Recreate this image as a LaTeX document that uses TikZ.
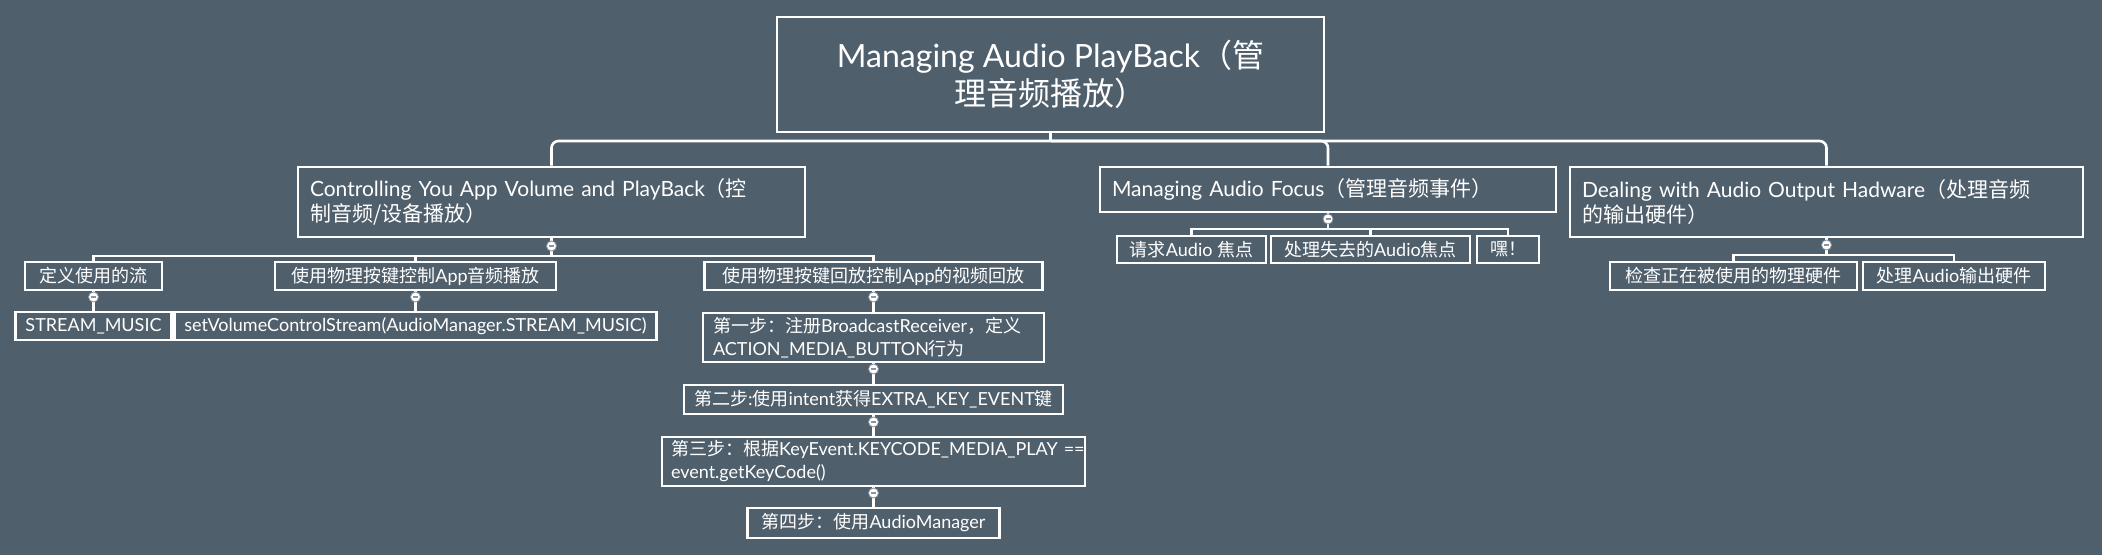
\documentclass[tikz,border=0pt]{standalone}
\usepackage{fontspec}
\setmainfont{Lato}
\newfontfamily\cjk{Noto Sans CJK SC}
\newcommand{\zh}[1]{{\cjk #1}}

\definecolor{slate}{RGB}{80,95,108}
\definecolor{knobgray}{RGB}{140,150,160}

\tikzset{
  box/.style={draw=white, line width=2.6pt, text=white, inner xsep=10pt, inner ysep=0pt,
    font=\fontsize{18}{23}\selectfont},
  topic/.style={box, inner xsep=12pt, align=left, font=\fontsize{21}{25}\selectfont},
  link/.style={draw=white, line width=2.6pt},
  knob/.style={circle, fill=white, draw=knobgray, line width=0.8pt, minimum size=10pt, inner sep=0pt,
    path picture={\draw[knobgray, line width=1.3pt]
      ([xshift=-2.5pt]path picture bounding box.center) -- ([xshift=2.5pt]path picture bounding box.center);}},
}

\begin{document}
\begin{tikzpicture}[x=1pt, y=-1pt]

        \fill[slate] (0,0) rectangle (2102,555);

        % Root and the three topics
        \node[box, minimum width=547pt, minimum height=115pt, align=center, font=\fontsize{32}{38}\selectfont]
            (root) at (1050.5,74.5) {Managing Audio PlayBack\zh{（管}\\\zh{理音频播放）}};
        \node[topic, text width=483pt, minimum height=70pt] (ctrl) at (551.5,202)
            {Controlling You App Volume and PlayBack\zh{（控}\\\zh{制音频/设备播放）}};
        \node[topic, text width=432pt, minimum height=45pt] (focus) at (1328,189.5)
            {Managing Audio Focus\zh{（管理音频事件）}};
        \node[topic, text width=489pt, minimum height=70pt] (dealing) at (1826.5,202)
            {Dealing with Audio Output Hadware\zh{（处理音频}\\\zh{的输出硬件）}};

        % Under the first topic
        \node[box, minimum width=137pt, minimum height=28pt] (define) at (93.5,276) {\zh{定义使用的流}};
        \node[box, minimum width=281pt, minimum height=28pt] (keyctl) at (415.5,276) {\zh{使用物理按键控制}App\zh{音频播放}};
        \node[box, minimum width=338pt, minimum height=28pt] (keyplay) at (873.5,276) {\zh{使用物理按键回放控制}App\zh{的视频回放}};
        \node[box, minimum width=152pt, minimum height=28pt] (stream) at (93.5,326) {STREAM\_MUSIC};
        \node[box, minimum width=481pt, minimum height=28pt] (setvol) at (415.5,326) {setVolumeControlStream(AudioManager.STREAM\_MUSIC)};

        % The four steps
        \node[box, text width=321pt, minimum height=49pt, align=left] (step1) at (873.5,337.5)
            {\zh{第一步：注册}BroadcastReceiver\zh{，定义}\\ACTION\_MEDIA\_BUTTON\zh{行为}};
        \node[box, minimum width=379pt, minimum height=29pt] (step2) at (873.5,399.5)
            {\zh{第二步}:\zh{使用}intent\zh{获得}EXTRA\_KEY\_EVENT\zh{键}};
        \node[box, text width=405pt, inner xsep=9pt, minimum height=49pt, align=left] (step3) at (873.5,461.5)
            {\mbox{\zh{第三步：根据}KeyEvent.KEYCODE\_MEDIA\_PLAY ==}\\event.getKeyCode()};
        \node[box, minimum width=252pt, minimum height=30pt] (step4) at (873.5,523) {\zh{第四步：使用}AudioManager};

        % Under the second and third topics
        \node[box, minimum width=149pt, minimum height=27pt] (request) at (1191.5,249.5) {\zh{请求}Audio \zh{焦点}};
        \node[box, minimum width=199pt, minimum height=27pt] (lost) at (1370.5,249.5) {\zh{处理失去的}Audio\zh{焦点}};
        \node[box, minimum width=62pt, minimum height=27pt] (hey) at (1508,249.5) {\zh{嘿！}};
        \node[box, minimum width=247pt, minimum height=28pt] (check) at (1733.5,276) {\zh{检查正在被使用的物理硬件}};
        \node[box, minimum width=182pt, minimum height=28pt] (output) at (1954,276) {\zh{处理}Audio\zh{输出硬件}};

        % Define coordinates where the branches split
        \coordinate (rootjoint) at (1050.5,141);
        \coordinate (ctrljoint) at (551.5,256);
        \coordinate (focusjoint) at (1328,229);
        \coordinate (dealingjoint) at (1826.5,255);

        % Draw the branches
        \draw[link] (root) -- (rootjoint);
        \draw[link, rounded corners=7pt] (rootjoint) -| (ctrl);
        \draw[link, rounded corners=7pt] (rootjoint) -| (focus);
        \draw[link, rounded corners=7pt] (rootjoint) -| (dealing);

        \draw[link] (ctrl) -- (ctrljoint);
        \draw[link] (ctrljoint) -| (define);
        \draw[link] (ctrljoint) -| (keyctl);
        \draw[link] (ctrljoint) -| (keyplay);
        \draw[link] (define) -- (stream);
        \draw[link] (keyctl) -- (setvol);
        \draw[link] (keyplay) -- (step1);
        \draw[link] (step1) -- (step2);
        \draw[link] (step2) -- (step3);
        \draw[link] (step3) -- (step4);

        \draw[link] (focus) -- (focusjoint);
        \draw[link] (focusjoint) -| (request);
        \draw[link] (focusjoint) -| (lost);
        \draw[link] (focusjoint) -| (hey);

        \draw[link] (dealing) -- (dealingjoint);
        \draw[link] (dealingjoint) -| (check);
        \draw[link] (dealingjoint) -| (output);

        % Collapse knobs on the parents
        \node[knob] (ctrlknob) at (551.5,246) {};
        \node[knob] (focusknob) at (1328,219) {};
        \node[knob] (dealingknob) at (1826.5,245) {};
        \node[knob] (defineknob) at (93.5,297) {};
        \node[knob] (keyctlknob) at (415.5,297) {};
        \node[knob] (keyplayknob) at (873.5,297) {};
        \node[knob] (step1knob) at (873.5,369) {};
        \node[knob] (step2knob) at (873.5,422) {};
        \node[knob] (step3knob) at (873.5,493) {};

\end{tikzpicture}
\end{document}
